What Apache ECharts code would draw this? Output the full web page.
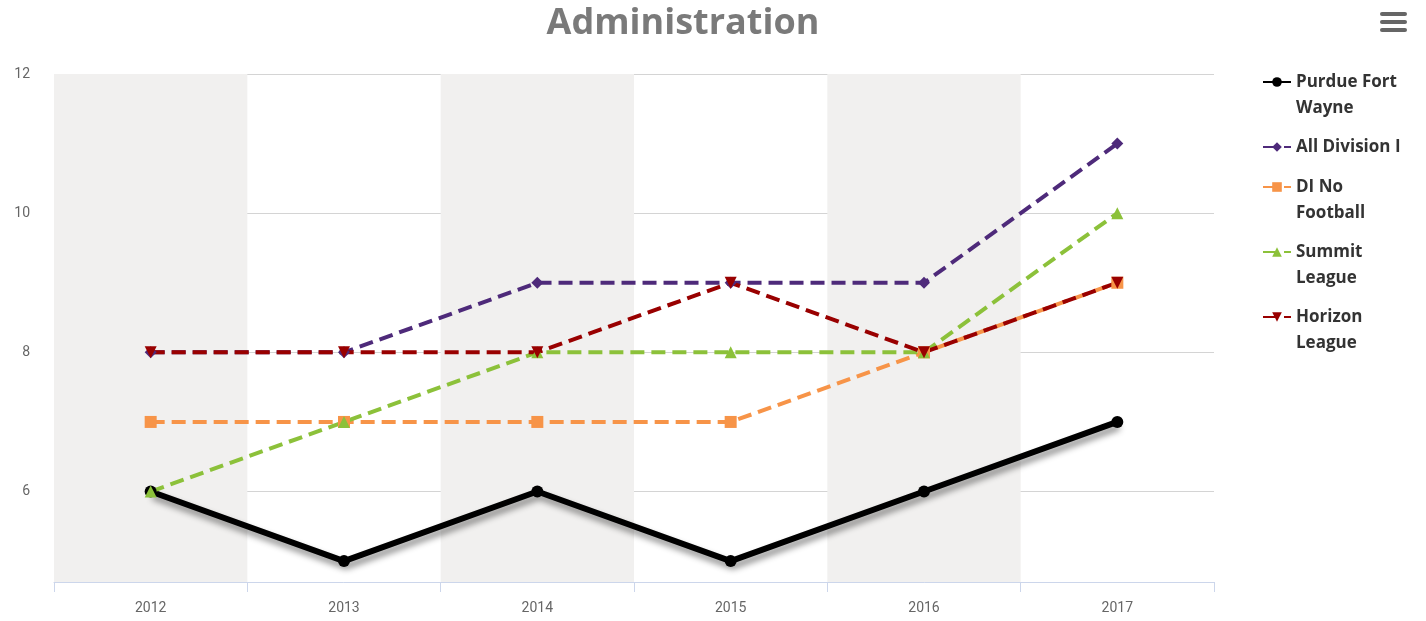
<!DOCTYPE html>
<html>
<head>
<meta charset="utf-8">
<script src="https://cdn.jsdelivr.net/npm/echarts@6/dist/echarts.min.js"></script>
<style>
  html, body { margin: 0; padding: 0; background: #fff; }
  #main { width: 1426px; height: 621px; }
</style>
</head>
<body>
<div id="main"></div>
<script>
// data
const years = ['2012', '2013', '2014', '2015', '2016', '2017']
const purdueFortWayne = [6, 5, 6, 5, 6, 7]
const allDivisionI = [8, 8, 9, 9, 9, 11]
const diNoFootball = [7, 7, 7, 7, 8, 9]
const summitLeague = [6, 7, 8, 8, 8, 10]
const horizonLeague = [8, 8, 8, 9, 8, 9]
const yTicks = [6, 8, 10, 12]

const seriesNames = ['Purdue Fort Wayne', 'All Division I', 'DI No Football', 'Summit League', 'Horizon League']
// leading empty line keeps the icon level with the first text line
const legendLabels = {
    'Purdue Fort Wayne': '\nPurdue Fort\nWayne',
    'All Division I': 'All Division I',
    'DI No Football': '\nDI No\nFootball',
    'Summit League': '\nSummit\nLeague',
    'Horizon League': '\nHorizon\nLeague'
}
// legend top of each entry (px)
const legendTops = [43, 134, 148, 213, 278]

let mychart = echarts.init(document.getElementById('main'))

const dashed = (color, symbol, data, name) => ({
    name: name,
    type: 'line',
    data: data,
    symbol: symbol,
    symbolSize: 12,
    itemStyle: { color: color },
    lineStyle: { color: color, width: 4, type: [14, 7] },
    emphasis: { disabled: true }
})

var option = {
    animation: false,
    title: {
        text: 'Administration',
        left: 678,
        textAlign: 'center',
        top: 1,
        textStyle: {
            fontFamily: 'Open Sans',
            fontWeight: 'bold',
            fontSize: 36,
            color: '#7a7a7a'
        }
    },
    legend: seriesNames.map((n, i) => ({
        data: [n],
        orient: 'vertical',
        left: 1262,
        top: legendTops[i],
        padding: 0,
        itemWidth: 28,
        itemHeight: 12,
        formatter: (name) => legendLabels[name],
        textStyle: {
            fontFamily: 'Open Sans',
            fontWeight: 'bold',
            fontSize: 17,
            lineHeight: 26,
            color: '#333'
        }
    })),
    grid: {
        left: 54,
        right: 212,
        top: 74,
        bottom: 39
    },
    xAxis: {
        type: 'category',
        data: years,
        boundaryGap: true,
        axisLine: { lineStyle: { color: '#ccd6eb' } },
        axisTick: { show: true, length: 10, lineStyle: { color: '#ccd6eb' } },
        axisLabel: { color: '#666', fontFamily: 'Roboto', fontSize: 14, margin: 19 },
        splitArea: { show: true, areaStyle: { color: ['#f1f0ef', 'rgba(255,255,255,0)'] } }
    },
    yAxis: {
        type: 'value',
        min: 4.7,
        max: 12,
        axisLine: { show: false },
        axisTick: { show: false, customValues: yTicks },
        axisLabel: { customValues: yTicks, color: '#666', fontFamily: 'Roboto', fontSize: 14, margin: 24 },
        splitLine: { lineStyle: { color: '#d4d4d4' } }
    },
    series: [
        {
            name: 'Purdue Fort Wayne',
            type: 'line',
            data: purdueFortWayne,
            symbol: 'circle',
            symbolSize: 12,
            itemStyle: { color: '#000' },
            lineStyle: {
                color: '#000',
                width: 6,
                shadowColor: 'rgba(0,0,0,0.45)',
                shadowBlur: 6,
                shadowOffsetX: 2,
                shadowOffsetY: 5
            },
            emphasis: { disabled: true }
        },
        dashed('#4e2a7a', 'diamond', allDivisionI, 'All Division I'),
        dashed('#f79448', 'rect', diNoFootball, 'DI No Football'),
        dashed('#8cc13a', 'triangle', summitLeague, 'Summit League'),
        Object.assign(dashed('#990000', 'triangle', horizonLeague, 'Horizon League'), { symbolRotate: 180 })
    ],
    graphic: [
        { type: 'rect', left: 1380, top: 12, shape: { width: 27, height: 4, r: 2 }, style: { fill: '#666' } },
        { type: 'rect', left: 1380, top: 20, shape: { width: 27, height: 4, r: 2 }, style: { fill: '#666' } },
        { type: 'rect', left: 1380, top: 28, shape: { width: 27, height: 4, r: 2 }, style: { fill: '#666' } }
    ]
}

mychart.setOption(option)

window.addEventListener('resize', () => {
    mychart.resize()
})
</script>
</body>
</html>
